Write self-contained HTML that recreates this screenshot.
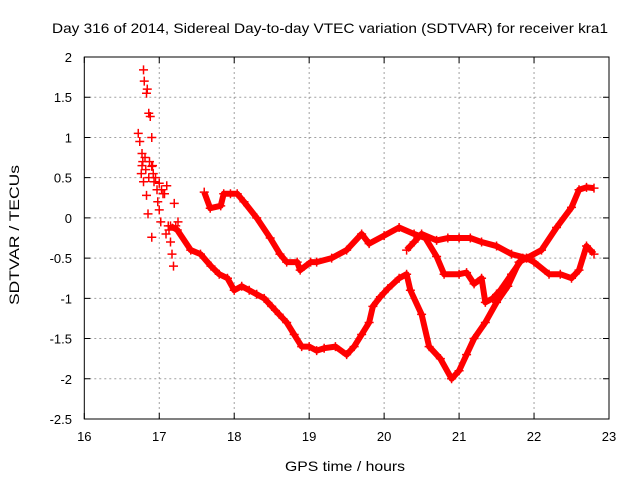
<!DOCTYPE html>
<html><head><meta charset="utf-8"><style>
body{margin:0;background:#fff}
svg text{font-family:"Liberation Sans",sans-serif;font-size:13px;fill:#000}
</style></head><body>
<svg id="chart" width="640" height="480" xmlns="http://www.w3.org/2000/svg">
<text x="52" y="33" style="font-size:14px" textLength="556" lengthAdjust="spacingAndGlyphs">Day 316 of 2014, Sidereal Day-to-day VTEC variation (SDTVAR) for receiver kra1</text>
<g id="grid"></g>
<g id="axes"></g>
<g id="series"></g>
<text x="285" y="471" style="font-size:14px" textLength="120" lengthAdjust="spacingAndGlyphs">GPS time / hours</text>
<text transform="translate(19,305) rotate(-90)" style="font-size:14px" textLength="140" lengthAdjust="spacingAndGlyphs">SDTVAR / TECUs</text>
</svg>
<script>
const xTicks=[16,17,18,19,20,21,22,23];
const yTicks=[2,1.5,1,0.5,0,-0.5,-1,-1.5,-2,-2.5];
const yTickLabels=["2","1.5","1","0.5","0","-0.5","-1","-1.5","-2","-2.5"];
const scatterX=[16.72,16.74,16.77,16.79,16.8,16.83,16.84,16.86,16.88,16.9,16.77,16.79,16.83,16.85,16.9,16.9,16.95,17.0,17.0,17.05,17.1,17.09,17.12,17.15,17.19,17.2,16.92,16.97,17.02,17.25,16.78,16.82,16.87,16.93,16.98,17.03,17.07,17.13,16.76,16.81,16.86,16.91,17.17,17.22];
const scatterY=[1.05,0.95,0.8,1.84,1.7,1.55,1.6,1.3,1.26,1.0,0.65,0.45,0.28,0.05,-0.24,0.64,0.5,0.43,0.1,0.3,0.4,-0.2,-0.1,-0.3,-0.6,0.18,0.55,0.35,-0.05,-0.05,0.7,0.6,0.7,0.45,0.2,0.35,0.3,-0.15,0.55,0.75,0.5,0.65,-0.45,-0.1];
const lowX=[17.15,17.24,17.42,17.55,17.69,17.8,17.91,18.0,18.1,18.2,18.3,18.4,18.5,18.6,18.7,18.8,18.9,19.0,19.1,19.2,19.35,19.5,19.6,19.7,19.8,19.85,19.95,20.05,20.2,20.3,20.35,20.5,20.6,20.75,20.9,21.0,21.1,21.2,21.35,21.5,21.65,21.8,21.9,22.1,22.3,22.5,22.6,22.7,22.8];
const lowY=[-0.1,-0.15,-0.4,-0.45,-0.6,-0.7,-0.75,-0.9,-0.85,-0.9,-0.95,-1.0,-1.1,-1.2,-1.3,-1.45,-1.6,-1.6,-1.65,-1.62,-1.6,-1.7,-1.6,-1.45,-1.3,-1.1,-0.98,-0.88,-0.75,-0.7,-0.9,-1.2,-1.6,-1.75,-2.0,-1.9,-1.7,-1.5,-1.3,-1.05,-0.85,-0.55,-0.5,-0.4,-0.12,0.13,0.35,0.38,0.37];
const upX=[17.6,17.68,17.82,17.86,17.95,18.04,18.13,18.3,18.48,18.61,18.7,18.84,18.88,19.02,19.1,19.3,19.5,19.7,19.8,20.0,20.2,20.4,20.55,20.7,20.8,21.0,21.1,21.2,21.3,21.35,21.45,21.55,21.7,21.85];
const upY=[0.32,0.12,0.15,0.3,0.3,0.3,0.2,0.0,-0.25,-0.45,-0.55,-0.55,-0.65,-0.55,-0.55,-0.5,-0.4,-0.2,-0.32,-0.22,-0.12,-0.2,-0.25,-0.48,-0.7,-0.7,-0.68,-0.82,-0.75,-1.05,-1.0,-0.9,-0.7,-0.5];
const midX=[20.3,20.4,20.5,20.7,20.85,21.0,21.15,21.3,21.5,21.7,21.9,22.0,22.2,22.35,22.5,22.6,22.7,22.75,22.8];
const midY=[-0.4,-0.3,-0.2,-0.28,-0.25,-0.25,-0.25,-0.3,-0.35,-0.45,-0.5,-0.55,-0.7,-0.7,-0.75,-0.65,-0.35,-0.4,-0.45];
const L=84.3,R=609,T=57,B=419;
const X=v=>L+(v-16)/7*(R-L);
const Y=v=>T+(2-v)/4.5*(B-T);
const NS="http://www.w3.org/2000/svg";
function mk(t,a,p){const e=document.createElementNS(NS,t);for(const k in a)e.setAttribute(k,a[k]);p.appendChild(e);return e;}
const grid=document.getElementById('grid'),axes=document.getElementById('axes'),ser=document.getElementById('series');
xTicks.forEach((t,i)=>{const x=X(t);
 if(i>0&&i<xTicks.length-1){const g=mk('line',{x1:x,x2:x,y1:T,y2:B,stroke:'#a0a0a0','stroke-dasharray':'2,3'},grid);}
 const tk=mk('path',{d:`M${x},${B}v-6M${x},${T}v6`,stroke:'#000'},axes);
 const tx=mk('text',{x:x,y:441,'text-anchor':'middle'},axes);tx.textContent=t;});
yTicks.forEach((t,i)=>{const y=Y(t);
 if(i>0&&i<yTicks.length-1){const g=mk('line',{x1:L,x2:R,y1:y,y2:y,stroke:'#a0a0a0','stroke-dasharray':'2,3'},grid);}
 const tk=mk('path',{d:`M${L},${y}h6M${R},${y}h-6`,stroke:'#000'},axes);
 const tx=mk('text',{x:72,y:y+5,'text-anchor':'end'},axes);tx.textContent=yTickLabels[i];});
const fr=mk('rect',{x:L,y:T,width:R-L,height:B-T,fill:'none',stroke:'#000'},axes);

function series(xs,ys,name,line){
 const g=mk('g',{},ser);
 if(line){const pl=mk('polyline',{points:xs.map((v,i)=>X(v)+','+Y(ys[i])).join(' '),fill:'none',stroke:'#f00','stroke-width':6,'stroke-linejoin':'round'},g);}
 xs.forEach((v,i)=>{const x=X(v),y=Y(ys[i]);const m=mk('path',{d:`M${x-4.5},${y}h9M${x},${y-4.5}v9`,stroke:'#f00','stroke-width':1.5},g);});
}
series(scatterX,scatterY,'early-scatter',false);
series(lowX,lowY,'lower-track',true);
series(upX,upY,'upper-track',true);
series(midX,midY,'middle-track',true);
</script>
</body></html>
